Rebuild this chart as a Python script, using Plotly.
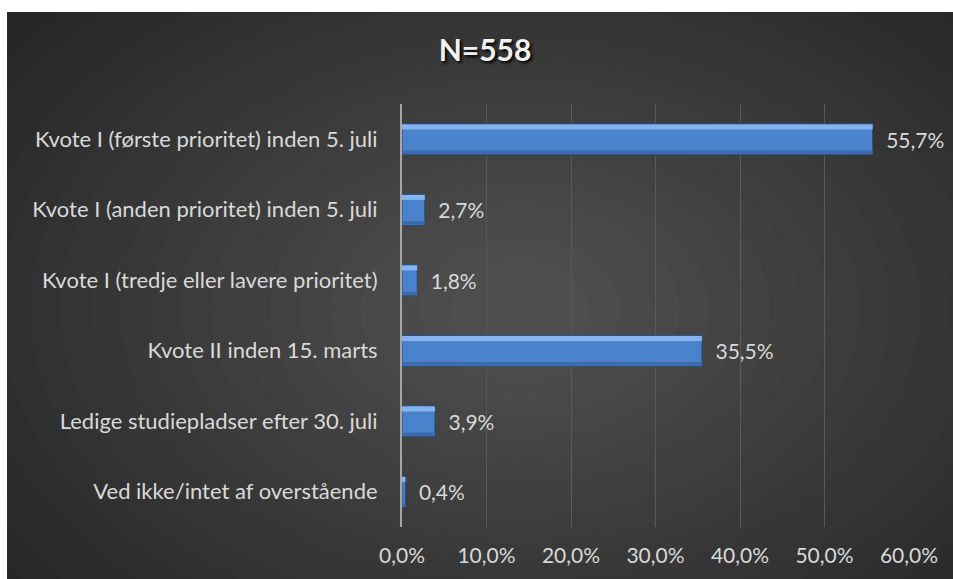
import plotly.graph_objects as go

# Data
categories = [
    "Kvote I (første prioritet) inden 5. juli",
    "Kvote I (anden prioritet) inden 5. juli",
    "Kvote I (tredje eller lavere prioritet)",
    "Kvote II inden 15. marts",
    "Ledige studiepladser efter 30. juli",
    "Ved ikke/intet af overstående",
]
shares = [55.7, 2.7, 1.8, 35.5, 3.9, 0.4]
tick_values = [0, 10, 20, 30, 40, 50, 60]

W, H = 953, 579
L, R, T, B = 402, 44, 104, 52
PW, PH = W - L - R, H - T - B


def px_x(p):
    return (p - L) / PW


def px_y(p):
    return (H - B - p) / PH


def pct(v):
    return f"{v:.1f}".replace(".", ",") + "%"


TEXT = "#d9d9d9"
FONT = "Lato"

fig = go.Figure()

# main bar
fig.add_trace(go.Bar(
    y=categories, x=shares, orientation="h",
    width=0.44,
    marker=dict(color="#4b82cc", line=dict(color="#2b4a78", width=1)),
    text=["\u2002" + pct(v) for v in shares],
    textposition="outside",
    textfont=dict(color=TEXT, size=21, family=FONT),
    cliponaxis=False,
    hoverinfo="x+y",
))
# light top edge and darker bottom edge (bevel look)
fig.add_trace(go.Bar(
    y=categories, x=shares, orientation="h",
    width=0.07, offset=-0.21,
    marker=dict(color="#86b5ee", line=dict(width=0)),
    hoverinfo="skip",
))
fig.add_trace(go.Bar(
    y=categories, x=shares, orientation="h",
    width=0.05, offset=0.16,
    marker=dict(color="#3d6cae", line=dict(width=0)),
    hoverinfo="skip",
))

# background: dark panel with a soft radial glow
shapes = [dict(type="rect", xref="paper", yref="paper", layer="below",
               x0=px_x(7), x1=px_x(W + 2), y0=px_y(H + 2), y1=px_y(12),
               fillcolor="#262626", line=dict(width=0))]
cx, cy = 520, 310
n = 20
for i in range(n):
    rx = 640 - i * 30
    ry = 430 - i * 20
    shapes.append(dict(type="circle", xref="paper", yref="paper", layer="below",
                       x0=px_x(cx - rx), x1=px_x(cx + rx),
                       y0=px_y(cy + ry), y1=px_y(cy - ry),
                       fillcolor="white", opacity=0.01, line=dict(width=0)))

fig.update_layout(
    width=W, height=H,
    margin=dict(l=L, r=R, t=T, b=B),
    paper_bgcolor="white",
    plot_bgcolor="rgba(0,0,0,0)",
    separators=",.",
    barmode="overlay",
    showlegend=False,
    shapes=shapes,
    title=dict(
        text="<b>N=558</b>", x=485 / W, xanchor="center",
        y=1 - 50 / H, yanchor="middle",
        font=dict(family=FONT, size=30, color="#f2f2f2",
                  shadow="2px 2px 3px #000"),
    ),
    xaxis=dict(
        range=[0, 60], tickvals=tick_values,
        ticktext=[pct(v) for v in tick_values],
        showgrid=True, gridcolor="#595959", gridwidth=1,
        zeroline=False, showline=False,
        tickfont=dict(color=TEXT, size=21, family=FONT),
        ticks="outside", ticklen=10, tickcolor="rgba(0,0,0,0)",
    ),
    yaxis=dict(
        autorange="reversed",
        showline=True, linecolor="#a6a6a6", linewidth=2,
        showgrid=False,
        tickfont=dict(color=TEXT, size=22, family=FONT),
        ticks="outside", ticklen=18, tickcolor="rgba(0,0,0,0)",
    ),
)

fig.write_html("out.html", config={"displayModeBar": False},
               post_script="document.body.style.margin='0';")
